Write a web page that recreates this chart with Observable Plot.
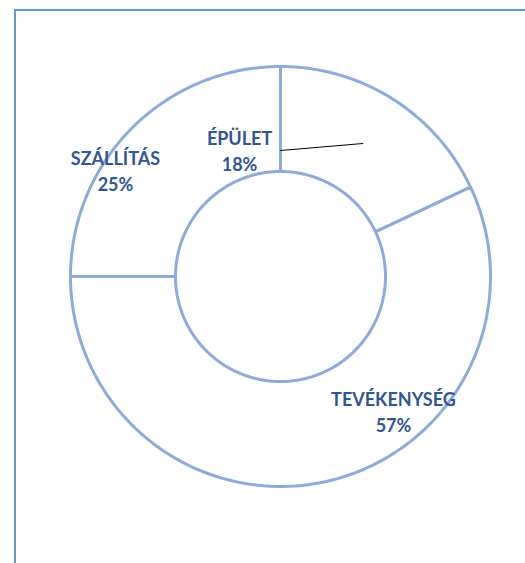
<!DOCTYPE html>
<html><head><meta charset="utf-8">
<script src="https://cdn.jsdelivr.net/npm/d3@7"></script>
<script src="https://cdn.jsdelivr.net/npm/@observablehq/plot@0.6"></script>
<style>
html,body{margin:0;padding:0;background:#fff;overflow:hidden;}
#wrap{position:relative;width:525px;height:563px;}
#frame{position:absolute;left:14px;top:9px;width:700px;height:700px;border:2px solid #5b9bd5;box-sizing:border-box;pointer-events:none;}
</style></head>
<body><div id="wrap"><div id="frame"></div></div>
<script>
const categories = ["ÉPÜLET", "TEVÉKENYSÉG", "SZÁLLÍTÁS"];
const shares = [18, 57, 25];

// layout (not data): manual label anchors in unit-radius coordinates
const labelAnchor = {"ÉPÜLET": [-0.195, 0.603], "TEVÉKENYSÉG": [0.538, -0.64], "SZÁLLÍTÁS": [-0.786, 0.508]};
const innerR = 0.5, outerR = 1;

const total = d3.sum(shares);
let cum = 0;
const slices = categories.map((c, i) => {
  const a0 = cum / total * 2 * Math.PI; cum += shares[i];
  const a1 = cum / total * 2 * Math.PI;
  return {c, v: shares[i], a0, a1};
});
const pts = [];
for (const s of slices) {
  const n = 120;
  for (let k = 0; k <= n; k++) { const a = s.a0 + (s.a1 - s.a0) * k / n; pts.push({c: s.c, x: outerR * Math.sin(a), y: outerR * Math.cos(a)}); }
  for (let k = n; k >= 0; k--) { const a = s.a0 + (s.a1 - s.a0) * k / n; pts.push({c: s.c, x: innerR * Math.sin(a), y: innerR * Math.cos(a)}); }
  pts.push({c: s.c, x: outerR * Math.sin(s.a0), y: outerR * Math.cos(s.a0)});
}
const labels = slices.map(s => ({c: s.c, x: labelAnchor[s.c][0], y: labelAnchor[s.c][1], t: s.c + "\n" + s.v + "%"}));
// leader line from ÉPÜLET label toward its slice's ring midpoint
const ep = slices[0];
const mid = (ep.a0 + ep.a1) / 2, rm = (innerR + outerR) / 2;
const leader = [{x: 0, y: 0.6}, {x: rm * Math.sin(mid) - 0.01, y: rm * Math.cos(mid)}];

const chart = Plot.plot({
  width: 525, height: 563,
  margin: 0,
  x: {domain: [-280/210, 245/210], axis: null},
  y: {domain: [(276-563)/210, 276/210], axis: null},
  style: {background: "transparent"},
  marks: [
    Plot.line(pts, {x: "x", y: "y", z: "c", fill: "white", stroke: "#8eaadb", strokeWidth: 3, strokeLinejoin: "miter", curve: "linear"}),
    Plot.line(leader, {x: "x", y: "y", stroke: "black", strokeWidth: 1}),
    Plot.text(labels, {x: "x", y: "y", text: "t", fill: "#2f5597", fontSize: 18, fontWeight: "bold", fontFamily: "Lato", lineHeight: 1.42, textAnchor: "middle"})
  ]
});
chart.style.position = "absolute"; chart.style.left = "0"; chart.style.top = "0";
document.getElementById("wrap").prepend(chart);
</script>
</body></html>
